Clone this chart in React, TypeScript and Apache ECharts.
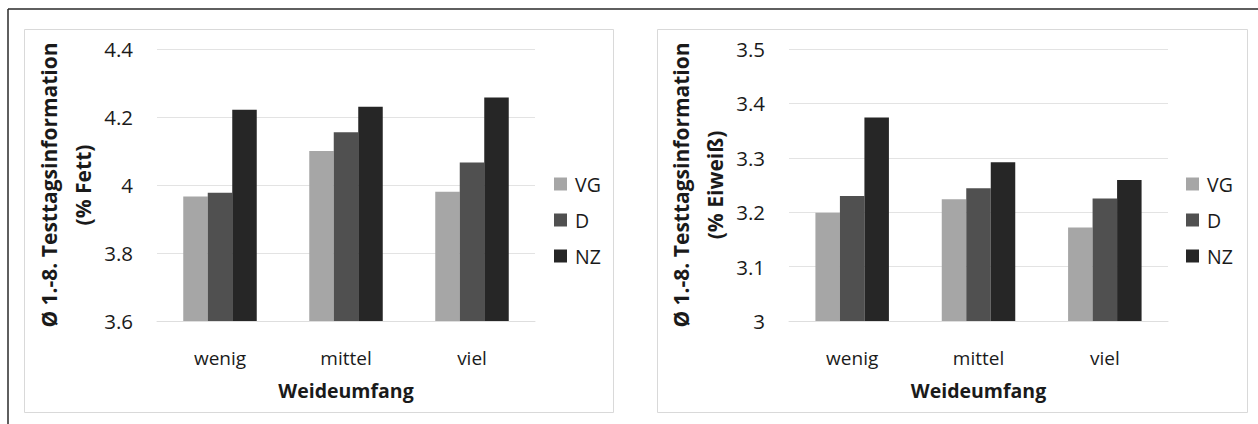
import { useEffect, useRef } from "react";
import * as echarts from "echarts";

// Grazing extent categories and the three groups
const categories = ["wenig", "mittel", "viel"];
const groups = ["VG", "D", "NZ"];

// Average of test days 1-8: fat content (%)
const fettVG = [3.966, 4.1, 3.98];
const fettD = [3.977, 4.155, 4.066];
const fettNZ = [4.221, 4.23, 4.257];

// Average of test days 1-8: protein content (%)
const eiweissVG = [3.199, 3.224, 3.172];
const eiweissD = [3.23, 3.244, 3.225];
const eiweissNZ = [3.374, 3.292, 3.259];

// Value axis ranges
const fettAxis = { min: 3.6, max: 4.4, interval: 0.2 };
const eiweissAxis = { min: 3.0, max: 3.5, interval: 0.1 };

const groupColors = ["#a6a6a6", "#505050", "#262626"];
const FONT = "Open Sans";
const TEXT = "#1a1a1a";

const W = 1258;
const H = 424;

function makeAxes(gridIndex: number, axis: { min: number; max: number; interval: number }, unit: string) {
  const xAxis = {
    type: "category",
    gridIndex,
    data: categories,
    axisTick: { show: false },
    axisLine: { show: true, lineStyle: { color: "#dedede", width: 1 } },
    axisLabel: { color: TEXT, fontFamily: FONT, fontSize: 19, margin: 27 },
    name: "Weideumfang",
    nameLocation: "middle",
    nameGap: 59,
    nameTextStyle: { color: TEXT, fontFamily: FONT, fontSize: 19.5, fontWeight: "bold" },
  };
  const yAxis = {
    type: "value",
    gridIndex,
    min: axis.min,
    max: axis.max,
    interval: axis.interval,
    axisLine: { show: false },
    axisTick: { show: false },
    splitLine: { show: true, lineStyle: { color: "#e3e3e3", width: 1 } },
    axisLabel: { color: TEXT, fontFamily: FONT, fontSize: 20.5, margin: 24 },
    name: "Ø 1.-8. Testtagsinformation\n" + unit,
    nameLocation: "middle",
    nameRotate: 90,
    nameGap: 56,
    nameTextStyle: {
      color: TEXT,
      fontFamily: FONT,
      fontSize: 21,
      fontWeight: "bold",
      lineHeight: 34,
      align: "center",
    },
  };
  return { xAxis, yAxis };
}

function makeSeries(gridIndex: number, values: number[][]) {
  return values.map((data, i) => ({
    type: "bar",
    name: groups[i],
    xAxisIndex: gridIndex,
    yAxisIndex: gridIndex,
    data,
    barWidth: 24.5,
    barGap: "0%",
    itemStyle: { color: groupColors[i] },
  }));
}

function makeLegend(left: number) {
  return {
    orient: "vertical",
    left,
    top: 174,
    padding: 0,
    data: groups,
    icon: "rect",
    itemWidth: 13,
    itemHeight: 13,
    itemGap: 16,
    selectedMode: false,
    textStyle: { color: TEXT, fontFamily: FONT, fontSize: 19.5, lineHeight: 20, padding: [0, 0, 0, 3] },
  };
}

export default function App() {
  const ref = useRef<HTMLDivElement>(null);

  useEffect(() => {
    if (!ref.current) return;
    const chart = echarts.init(ref.current, undefined, { renderer: "svg" });
    const left = makeAxes(0, fettAxis, "(% Fett)");
    const right = makeAxes(1, eiweissAxis, "(% Eiweiß)");

    chart.setOption({
      animation: false,
      backgroundColor: "#ffffff",
      grid: [
        { left: 157, top: 49, width: 378, height: 272 },
        { left: 789, top: 49, width: 379, height: 272 },
      ],
      xAxis: [left.xAxis, right.xAxis],
      yAxis: [left.yAxis, right.yAxis],
      legend: [makeLegend(554), makeLegend(1186)],
      series: [
        ...makeSeries(0, [fettVG, fettD, fettNZ]),
        ...makeSeries(1, [eiweissVG, eiweissD, eiweissNZ]),
      ],
      graphic: [
        // outer frame (top and left edges)
        { type: "line", shape: { x1: 8, y1: 9, x2: W, y2: 9 }, style: { stroke: "#2a2a2a", lineWidth: 1.5 } },
        { type: "line", shape: { x1: 8, y1: 9, x2: 8, y2: H }, style: { stroke: "#2a2a2a", lineWidth: 1.5 } },
        // chart area borders
        {
          type: "rect",
          shape: { x: 24.5, y: 29.5, width: 589, height: 383 },
          style: { fill: "none", stroke: "#d9d9d9", lineWidth: 1 },
          silent: true,
        },
        {
          type: "rect",
          shape: { x: 657.5, y: 29.5, width: 590, height: 383 },
          style: { fill: "none", stroke: "#d9d9d9", lineWidth: 1 },
          silent: true,
        },
      ],
    });
    return () => chart.dispose();
  }, []);

  return (
    <div
      ref={ref}
      style={{ position: "absolute", left: 0, top: 0, width: W, height: H, background: "#fff" }}
    />
  );
}
